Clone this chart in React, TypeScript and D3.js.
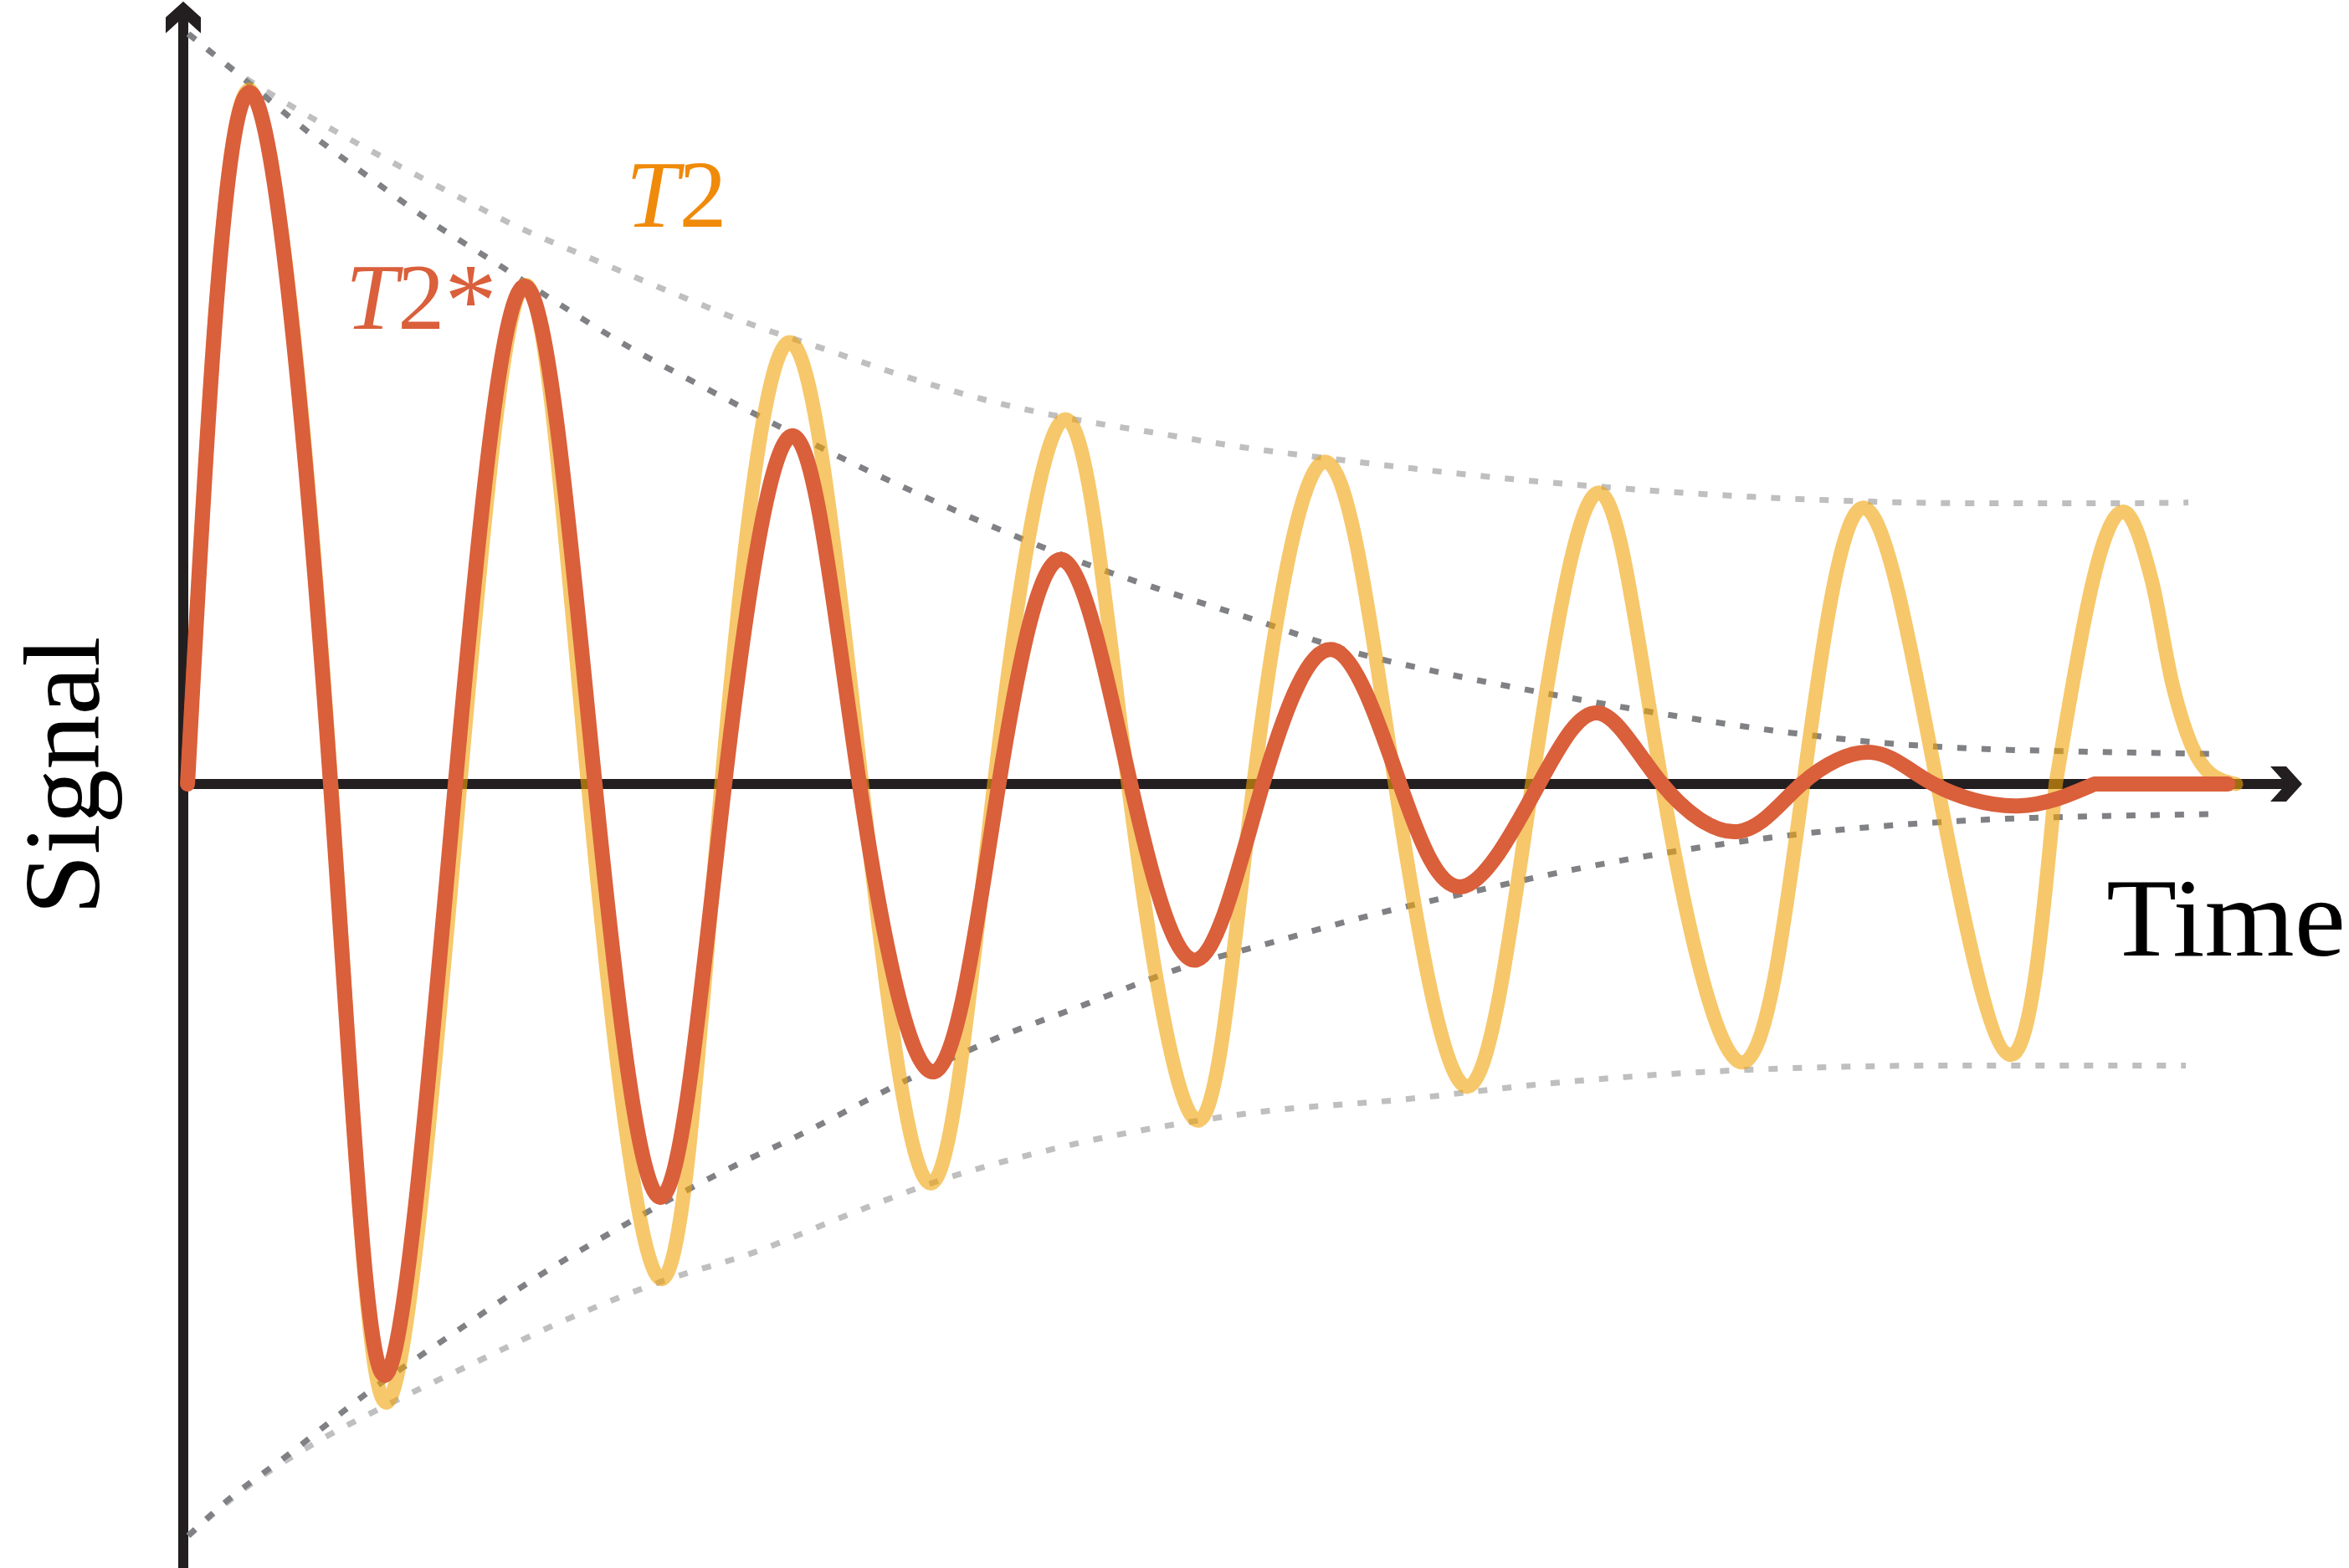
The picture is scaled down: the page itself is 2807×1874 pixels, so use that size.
import * as d3 from "d3";
import { useEffect, useRef } from "react";

type Pt = [number, number]; // [time, signal]

// T2* decay (red): extrema and zero crossings
const t2StarWave: Pt[] = [
  [0.2, 0], [3.16, 0.916], [6.95, 0], [9.56, -0.783], [12.84, 0], [16.19, 0.659],
  [19.43, 0], [22.59, -0.547], [25.55, 0], [28.83, 0.461], [31.91, 0], [35.47, -0.381],
  [38.49, 0], [41.51, 0.297], [44.71, 0], [47.83, -0.233], [50.95, 0], [54.25, 0.178],
  [57.42, 0], [60.37, -0.136], [63.98, 0], [66.82, 0.094], [69.79, 0], [73.38, -0.063],
  [76.37, 0], [79.66, 0.042], [82.6, 0], [86.57, -0.029], [90.2, 0],
];
const t2StarTail: Pt[] = [[90.2, 0], [96.5, 0]];

// T2 decay (yellow)
const t2Wave: Pt[] = [
  [0.2, 0], [3.16, 0.92], [6.98, 0], [9.64, -0.819], [13.07, 0], [16.2, 0.661],
  [19.1, 0], [22.59, -0.656], [25.4, 0], [28.67, 0.585], [32.03, 0], [35.31, -0.529],
  [38.27, 0], [41.67, 0.483], [44.59, 0], [47.91, -0.446], [50.51, 0], [53.91, 0.427],
  [57.19, 0], [60.62, -0.401], [63.66, 0], [66.82, 0.386], [69.79, 0], [73.58, -0.369],
  [76.46, 0], [79.3, 0.366], [82.78, 0], [86.26, -0.359], [88.37, 0],
];
const t2Tail: Pt[] = [
  [88.37, 0], [91.55, 0.361], [92.9, 0.27], [93.9, 0.13], [94.8, 0.05],
  [95.7, 0.013], [96.88, 0],
];

// envelopes (dotted)
const t2Upper: Pt[] = [
  [0.24, 0.994], [3.12, 0.932], [5.0, 0.9], [8.33, 0.847], [12.64, 0.783], [15.8, 0.738],
  [19.19, 0.697], [23.5, 0.646], [26.9, 0.608], [30.29, 0.576], [33.73, 0.543],
  [38.27, 0.506], [41.9, 0.484], [45.5, 0.467], [50.04, 0.446], [55.06, 0.428],
  [60.94, 0.409], [66.82, 0.394], [71.84, 0.384], [77.73, 0.376], [84.52, 0.372],
  [91.31, 0.372], [94.63, 0.373],
];
const t2Lower: Pt[] = [
  [0.24, -0.996], [3.12, -0.929], [6.04, -0.876], [9.68, -0.822], [13.74, -0.767],
  [18.05, -0.71], [22.59, -0.659], [26.9, -0.621], [31.44, -0.57], [35.31, -0.529],
  [41.6, -0.48], [47.91, -0.446], [51.26, -0.433], [57.19, -0.419], [64.73, -0.396],
  [73.62, -0.379], [83.49, -0.373], [94.51, -0.373],
];
const t2StarUpper: Pt[] = [
  [0.24, 0.994], [3.04, 0.93], [5.85, 0.865], [8.77, 0.804], [11.69, 0.745],
  [14.77, 0.69], [17.85, 0.634], [20.85, 0.582], [24.01, 0.534], [28.04, 0.475],
  [31.44, 0.427], [34.64, 0.385], [38.03, 0.343], [42.57, 0.292], [45.97, 0.259],
  [50.51, 0.218], [55.06, 0.176], [59.8, 0.145], [64.34, 0.12], [70.46, 0.09],
  [75.0, 0.071], [79.98, 0.055], [84.52, 0.047], [89.53, 0.043], [95.7, 0.04],
];
const t2StarLower: Pt[] = [
  [0.24, -0.996], [1.97, -0.952], [5.13, -0.885], [8.77, -0.805], [12.64, -0.73],
  [16.71, -0.653], [20.77, -0.585], [25.08, -0.519], [29.38, -0.461], [33.73, -0.398],
  [38.03, -0.341], [42.57, -0.292], [46.88, -0.246], [51.62, -0.208], [56.16, -0.173],
  [60.94, -0.142], [65.68, -0.113], [71.6, -0.084], [77.73, -0.062], [84.52, -0.048],
  [91.31, -0.042], [95.7, -0.04],
];

const timeExtent = [-0.24, 100];
const signalExtent = [-1.05, 1.037];

const W = 2807;
const H = 1874;
const RED = "#da5f3b";
const YELLOW = "#f0a308";
const ORANGE = "#f08a0a";
const INK = "#231f20";
const FONT = "'Liberation Serif', 'Times New Roman', serif";

export default function App() {
  const ref = useRef<SVGSVGElement>(null);

  useEffect(() => {
    const svg = d3.select(ref.current);
    svg.selectAll("*").remove();

    const x = d3.scaleLinear().domain([0, 100]).range([219, 2751]);
    const y = d3.scaleLinear().domain([-1, 1]).range([1839, 35]);

    const line = (curve: d3.CurveFactory) =>
      d3
        .line<Pt>()
        .x((d) => x(d[0]))
        .y((d) => y(d[1]))
        .curve(curve);

    // axes
    const ax = svg.append("g");
    ax.append("line")
      .attr("x1", x(0))
      .attr("x2", x(0))
      .attr("y1", y(signalExtent[0]))
      .attr("y2", y(signalExtent[1]) + 12)
      .attr("stroke", INK)
      .attr("stroke-width", 12);
    ax.append("line")
      .attr("x1", x(timeExtent[0]))
      .attr("x2", x(timeExtent[1]) - 12)
      .attr("y1", y(0))
      .attr("y2", y(0))
      .attr("stroke", INK)
      .attr("stroke-width", 12);

    // chevron arrow tips, local coords: u along axis, v across
    const tip: [number, number][] = [[0, 0], [-19, -21], [-38, -21], [-19, 0], [-38, 21], [-19, 21]];
    ax.append("path")
      .attr("d", "M" + tip.map(([u, v]) => `${x(timeExtent[1]) + u},${y(0) + v}`).join("L") + "Z")
      .attr("fill", INK);
    ax.append("path")
      .attr("d", "M" + tip.map(([u, v]) => `${x(0) + v},${y(signalExtent[1]) - u}`).join("L") + "Z")
      .attr("fill", INK);

    // envelopes
    const env = svg.append("g").attr("fill", "none").attr("stroke-width", 7).attr("stroke-dasharray", "11 18");
    [t2Upper, t2Lower].forEach((d) =>
      env.append("path").attr("d", line(d3.curveMonotoneX)(d)).attr("stroke", "#bfbfbf")
    );
    [t2StarUpper, t2StarLower].forEach((d) =>
      env.append("path").attr("d", line(d3.curveMonotoneX)(d)).attr("stroke", "#808185")
    );

    // T2 signal
    svg.append("g")
      .attr("opacity", 0.6)
      .append("path")
      .attr("d", line(d3.curveNatural)(t2Wave)! + line(d3.curveMonotoneX)(t2Tail)!)
      .attr("fill", "none")
      .attr("stroke", YELLOW)
      .attr("stroke-width", 17)
      .attr("stroke-linecap", "round")
      .attr("stroke-linejoin", "round");

    // T2* signal
    svg.append("path")
      .attr("d", line(d3.curveNatural)(t2StarWave)! + line(d3.curveLinear)(t2StarTail)!)
      .attr("fill", "none")
      .attr("stroke", RED)
      .attr("stroke-width", 18)
      .attr("stroke-linecap", "round")
      .attr("stroke-linejoin", "round");

    // labels
    const t2 = svg.append("text").attr("x", 748).attr("y", 271).attr("font-family", FONT)
      .attr("font-size", 114).attr("fill", ORANGE);
    t2.append("tspan").attr("font-style", "italic").text("T");
    t2.append("tspan").text("2");

    const t2s = svg.append("text").attr("x", 413).attr("y", 393).attr("font-family", FONT)
      .attr("font-size", 112).attr("fill", RED);
    t2s.append("tspan").attr("font-style", "italic").text("T");
    t2s.append("tspan").text("2");
    t2s.append("tspan").attr("font-size", 125).attr("dy", 8).text("*");

    svg.append("text")
      .attr("x", 2517).attr("y", 1142)
      .attr("font-family", FONT).attr("font-size", 133)
      .attr("textLength", 286).attr("lengthAdjust", "spacingAndGlyphs")
      .attr("fill", "#000").text("Time");

    svg.append("text")
      .attr("transform", `translate(118, ${y(0) - 10}) rotate(-90)`)
      .attr("text-anchor", "middle")
      .attr("font-family", FONT).attr("font-size", 130)
      .attr("textLength", 333).attr("lengthAdjust", "spacingAndGlyphs")
      .attr("fill", "#000").text("Signal");
  }, []);

  return (
    <svg
      ref={ref}
      width={W}
      height={H}
      style={{ position: "absolute", left: 0, top: 0, background: "#fff" }}
    />
  );
}
